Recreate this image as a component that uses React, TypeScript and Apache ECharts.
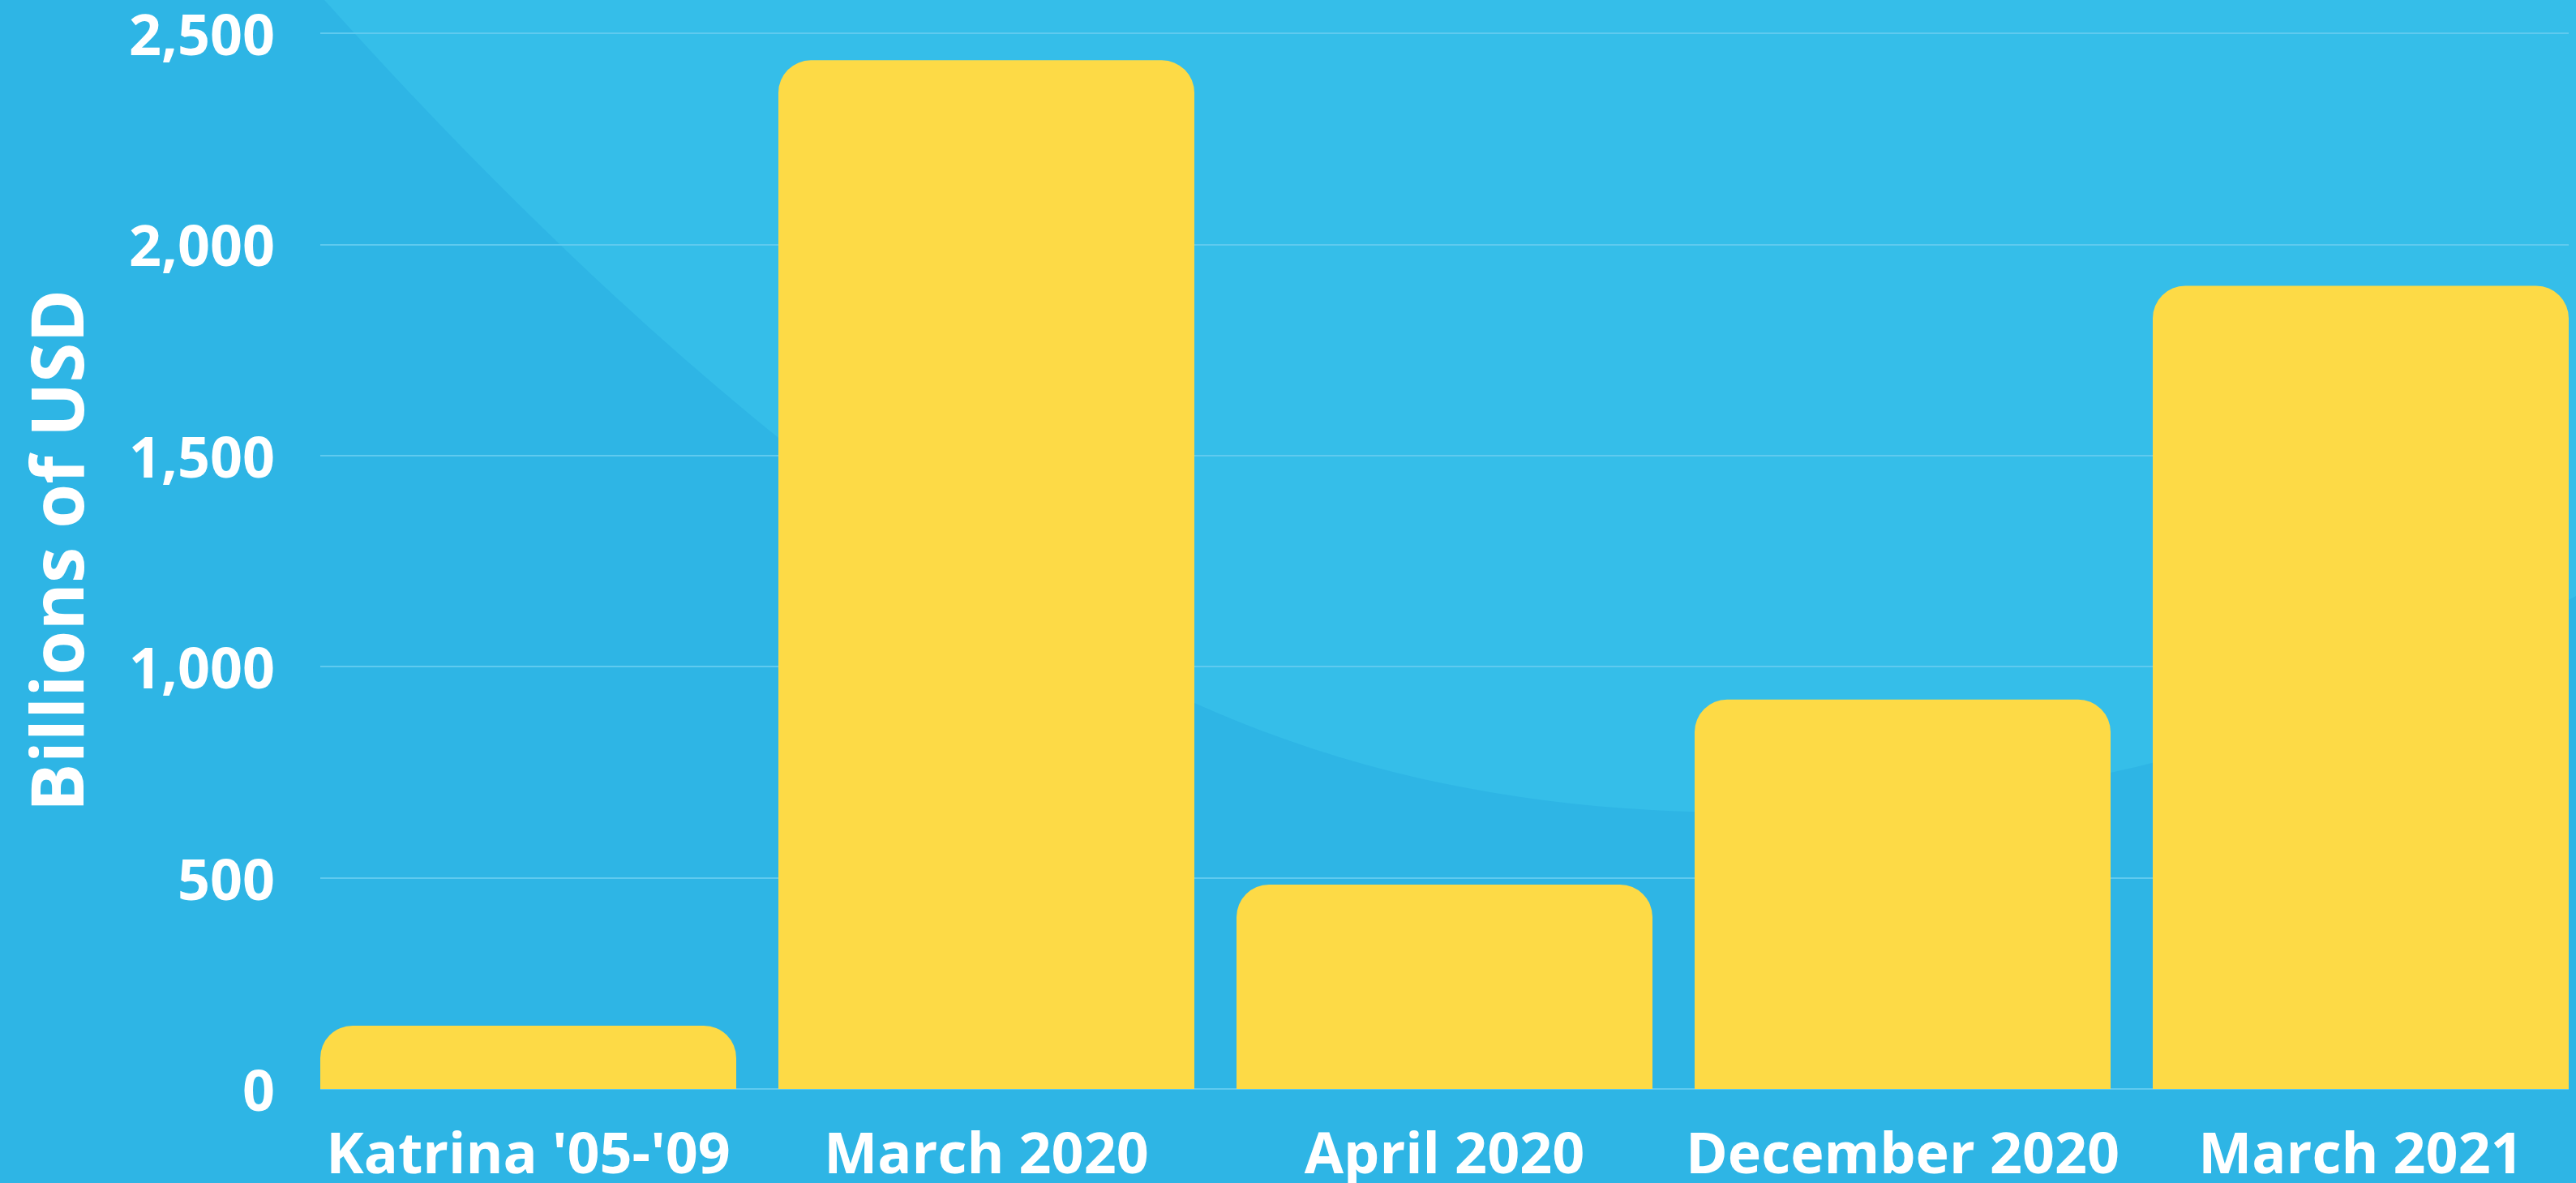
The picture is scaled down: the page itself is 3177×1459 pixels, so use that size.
import React, { useEffect, useRef } from "react";
import * as echarts from "echarts";

const categories = ["Katrina '05-'09", "March 2020", "April 2020", "December 2020", "March 2021"];
const values = [150, 2436, 484, 922, 1902];
const yMin = 0;
const yMax = 2500;
const yInterval = 500;
const yAxisName = "Billions of USD";

const FONT = "'Open Sans', 'Noto Sans', sans-serif";

const BG_PATH =
  "M 400 0 C 750 390, 1123 710, 1473 867 C 1698 968, 1925 1002, 2150 1002 C 2490 1002, 2837 922, 3177 735 L 3220 700 L 3220 -10 L 400 -10 Z";

let registered = false;

export default function App() {
  const ref = useRef<HTMLDivElement | null>(null);
  useEffect(() => {
    if (!ref.current) return;
    if (!registered) {
      echarts.graphic.registerShape("bgShape", echarts.graphic.extendPath(BG_PATH, {}) as any);
      registered = true;
    }
    const chart = echarts.init(ref.current, undefined, { renderer: "svg" });
    const top = 41;
    const height = 1302;
    chart.setOption({
      animation: false,
      backgroundColor: "#2eb5e5",
      graphic: [
        {
          type: "bgShape",
          z: -100,
          silent: true,
          x: 0,
          y: 0,
          scaleX: 1,
          scaleY: 1,
          style: { fill: "#35bee9" },
        },
      ],
      grid: [
        { left: 369, top, width: 2825, height },
        { left: 395, top, width: 2773, height },
      ],
      xAxis: [
        {
          type: "category",
          gridIndex: 0,
          data: categories,
          axisLine: { show: false },
          axisTick: { show: false },
          axisLabel: {
            interval: 0,
            color: "#ffffff",
            fontFamily: FONT,
            fontWeight: "bold",
            fontSize: 70,
            margin: 42,
          },
        },
        {
          type: "category",
          gridIndex: 1,
          data: categories,
          show: false,
        },
      ],
      yAxis: [
        {
          type: "value",
          gridIndex: 0,
          min: yMin,
          max: yMax,
          interval: yInterval,
          show: false,
        },
        {
          type: "value",
          gridIndex: 1,
          min: yMin,
          max: yMax,
          interval: yInterval,
          name: yAxisName,
          nameLocation: "middle",
          nameGap: 282,
          nameTextStyle: {
            color: "#ffffff",
            fontFamily: FONT,
            fontWeight: "bold",
            fontSize: 89,
            padding: [0, 0, 0, 26],
          },
          axisLine: { show: false },
          axisTick: { show: false },
          axisLabel: {
            color: "#ffffff",
            fontFamily: FONT,
            fontWeight: "bold",
            fontSize: 70,
            margin: 56,
            formatter: (v: number) => v.toLocaleString("en-US"),
          },
          splitLine: { show: true, lineStyle: { color: "#5fcaef", width: 2 } },
        },
      ],
      series: [
        {
          type: "bar",
          xAxisIndex: 0,
          yAxisIndex: 0,
          data: values,
          barWidth: 513,
          itemStyle: { color: "#fdda46", borderRadius: [40, 40, 0, 0] },
        },
      ],
    });
    return () => chart.dispose();
  }, []);
  return (
    <div
      style={{
        position: "absolute",
        left: 0,
        top: 0,
        width: 3177,
        height: 1459,
        overflow: "hidden",
      }}
    >
      <div ref={ref} style={{ width: 3210, height: 1459 }} />
    </div>
  );
}
